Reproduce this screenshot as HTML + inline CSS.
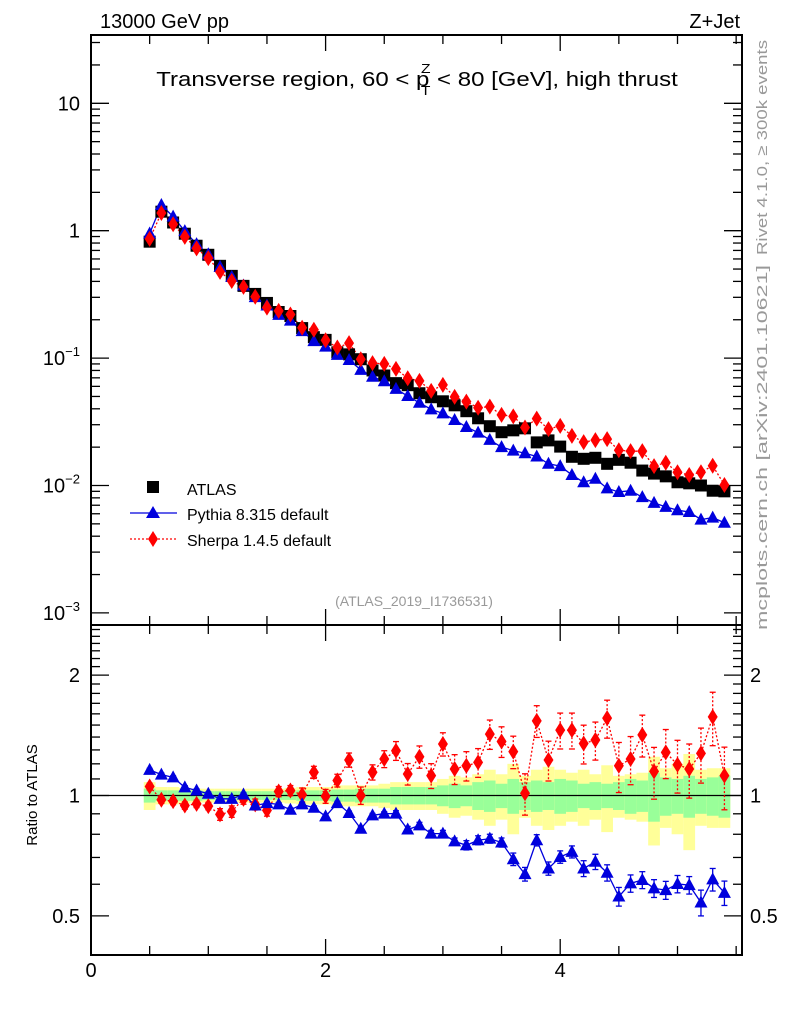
<!DOCTYPE html>
<html><head><meta charset="utf-8">
<style>
html,body{margin:0;padding:0;background:#fff;}
svg{display:block;font-family:"Liberation Sans",sans-serif;}
</style></head>
<body>
<svg id="chart" width="786" height="1024" viewBox="0 0 786 1024" xmlns="http://www.w3.org/2000/svg">
<text x="100" y="28" font-size="20">13000 GeV pp</text>
<text x="740" y="28" font-size="20" text-anchor="end">Z+Jet</text>
<g transform="translate(417,86) scale(1.2,1)">
<text x="0" y="0" font-size="20" text-anchor="middle">Transverse region, 60 &lt; p<tspan font-size="13" dx="-7" dy="-13">Z</tspan><tspan font-size="13" dx="-8" dy="22">T</tspan><tspan dy="-9"> &lt; 80 [GeV], high thrust</tspan></text>
</g>
<text transform="translate(767,255) rotate(-90)" font-size="15" fill="#999" textLength="215" lengthAdjust="spacingAndGlyphs">Rivet 4.1.0, ≥ 300k events</text>
<text transform="translate(767,630) rotate(-90)" font-size="15" fill="#999" textLength="365" lengthAdjust="spacingAndGlyphs">mcplots.cern.ch [arXiv:2401.10621]</text>
<text x="414" y="606" font-size="14" fill="#999" text-anchor="middle">(ATLAS_2019_I1736531)</text>
<text transform="translate(37,795) rotate(-90)" font-size="15" text-anchor="middle">Ratio to ATLAS</text>
<g>
<rect x="147" y="481" width="12" height="12" fill="#000"/>
<text x="187" y="495" font-size="16">ATLAS</text>
<line x1="130" y1="513" x2="177" y2="513" stroke="#0000dd" stroke-width="1.3"/>
<polygon points="153,506 160,518 146,518" fill="#0000dd"/>
<text x="187" y="520" font-size="16">Pythia 8.315 default</text>
<line x1="130" y1="539" x2="177" y2="539" stroke="#ff0000" stroke-width="1.3" stroke-dasharray="2,2"/>
<polygon points="153,531 158,539 153,547 148,539" fill="#ff0000"/>
<text x="187" y="546" font-size="16">Sherpa 1.4.5 default</text>
</g>
</svg>
<script>
const xVals=[0.5,0.6,0.7,0.8,0.9,1.0,1.1,1.2,1.3,1.4,1.5,1.6,1.7,1.8,1.9,2.0,2.1,2.2,2.3,2.4,2.5,2.6,2.7,2.8,2.9,3.0,3.1,3.2,3.3,3.4,3.5,3.6,3.7,3.8,3.9,4.0,4.1,4.2,4.3,4.4,4.5,4.6,4.7,4.8,4.9,5.0,5.1,5.2,5.3,5.4];
const atlasVals=[0.82,1.41,1.16,0.947,0.762,0.647,0.53,0.442,0.369,0.319,0.271,0.230,0.214,0.172,0.146,0.139,0.111,0.107,0.098,0.080,0.073,0.0636,0.0613,0.053,0.0493,0.0458,0.0426,0.0383,0.0337,0.0292,0.0262,0.0271,0.0281,0.0218,0.0226,0.0202,0.0168,0.0162,0.0165,0.0148,0.0159,0.0151,0.0131,0.0124,0.0118,0.0106,0.0104,0.0100,0.0091,0.0090];
const pythiaVals=[0.950,1.59,1.29,0.992,0.784,0.653,0.520,0.434,0.371,0.301,0.259,0.2185,0.197,0.163,0.136,0.123,0.106,0.0967,0.0809,0.0714,0.0658,0.0573,0.0504,0.0446,0.0396,0.0368,0.0327,0.0288,0.0260,0.0228,0.0200,0.0188,0.0179,0.0169,0.0148,0.0142,0.0121,0.0106,0.0113,0.0095,0.0089,0.0091,0.0081,0.0073,0.0068,0.0064,0.0062,0.0054,0.0056,0.0051];
const sherpaVals=[0.863,1.376,1.123,0.894,0.726,0.609,0.475,0.403,0.362,0.303,0.249,0.235,0.220,0.173,0.167,0.138,0.121,0.131,0.098,0.0914,0.0901,0.0823,0.0694,0.0663,0.0553,0.0616,0.0496,0.0455,0.0408,0.0416,0.0358,0.0349,0.0285,0.0335,0.0277,0.0294,0.0245,0.0219,0.0227,0.0231,0.0189,0.0186,0.0186,0.0142,0.0151,0.0127,0.0121,0.0127,0.0143,0.0101];
const pythiaRatio=[1.159,1.128,1.11,1.048,1.029,1.01,0.981,0.981,1.006,0.944,0.957,0.950,0.921,0.950,0.932,0.887,0.957,0.904,0.826,0.892,0.901,0.901,0.822,0.842,0.803,0.803,0.768,0.751,0.773,0.780,0.763,0.693,0.636,0.773,0.657,0.702,0.723,0.657,0.683,0.641,0.559,0.603,0.615,0.586,0.580,0.601,0.597,0.540,0.617,0.571];
const sherpaRatio=[1.053,0.976,0.968,0.944,0.953,0.941,0.897,0.912,0.981,0.950,0.918,1.023,1.029,1.004,1.143,0.996,1.09,1.227,1.0,1.143,1.234,1.294,1.132,1.25,1.121,1.345,1.165,1.187,1.21,1.424,1.365,1.287,1.013,1.537,1.227,1.457,1.457,1.349,1.376,1.561,1.187,1.234,1.418,1.149,1.282,1.194,1.165,1.274,1.572,1.121];
const pythiaErr=[0.01,0.01,0.01,0.01,0.01,0.01,0.01,0.01,0.01,0.01,0.01,0.01,0.01,0.01,0.01,0.01,0.01,0.01,0.01,0.01,0.01,0.015,0.015,0.015,0.015,0.015,0.015,0.02,0.02,0.02,0.02,0.025,0.025,0.025,0.025,0.025,0.025,0.03,0.03,0.03,0.03,0.03,0.03,0.03,0.03,0.03,0.03,0.04,0.04,0.04];
const sherpaErr=[0.02,0.02,0.02,0.02,0.02,0.02,0.03,0.03,0.03,0.03,0.03,0.03,0.03,0.04,0.04,0.04,0.04,0.05,0.05,0.05,0.06,0.07,0.07,0.08,0.08,0.09,0.1,0.1,0.1,0.12,0.12,0.12,0.12,0.14,0.14,0.15,0.15,0.15,0.15,0.17,0.17,0.17,0.17,0.17,0.18,0.18,0.18,0.2,0.24,0.2];
const greenBand=[0.04,0.03,0.03,0.03,0.03,0.025,0.025,0.025,0.025,0.025,0.025,0.025,0.025,0.03,0.03,0.03,0.035,0.035,0.04,0.04,0.04,0.05,0.05,0.05,0.05,0.06,0.07,0.06,0.08,0.09,0.07,0.1,0.08,0.09,0.08,0.1,0.09,0.07,0.08,0.07,0.08,0.1,0.09,0.14,0.11,0.1,0.12,0.1,0.11,0.12];
const yellowBand=[0.08,0.05,0.05,0.045,0.04,0.04,0.04,0.04,0.04,0.04,0.04,0.04,0.045,0.05,0.05,0.05,0.06,0.06,0.06,0.06,0.07,0.08,0.08,0.08,0.08,0.1,0.12,0.11,0.13,0.16,0.13,0.2,0.12,0.16,0.18,0.16,0.14,0.16,0.13,0.19,0.12,0.13,0.14,0.25,0.17,0.2,0.27,0.16,0.17,0.17];
const xTickLabels=["0","2","4"];

const NS="http://www.w3.org/2000/svg";
const svg=document.getElementById('chart');
const L=91,R=742,MT=35,MB=625,RT=625,RB=955;
function X(v){return L+v*117.3;}
function Ym(v){return 230.7-127.4*Math.log10(v);}
function Yr(v){return 795.5-400*Math.log10(v);}
function mk(tag,attrs,parent){const e=document.createElementNS(NS,tag);for(const k in attrs)e.setAttribute(k,attrs[k]);(parent||svg).appendChild(e);return e;}

const bands=mk('g',{});


xVals.forEach((x,i)=>{
  const x0=X(x-0.05),x1=X(x+0.05);
  const y=mk('rect',{x:x0,y:Yr(1+yellowBand[i]),width:x1-x0,height:Yr(1-yellowBand[i])-Yr(1+yellowBand[i]),fill:'#ffff99'},bands);
  
  
  const g=mk('rect',{x:x0,y:Yr(1+greenBand[i]),width:x1-x0,height:Yr(1-greenBand[i])-Yr(1+greenBand[i]),fill:'#99ff99'},bands);
  
  
});
const one=mk('line',{x1:L,x2:R,y1:Yr(1),y2:Yr(1),stroke:'#000','stroke-width':1.3});



function frame(y0,y1,name){const r=mk('rect',{x:L,y:y0,width:R-L,height:y1-y0,fill:'none',stroke:'#000','stroke-width':2});

}
frame(MT,MB,'main-plot-frame');frame(RT,RB,'ratio-plot-frame');
const ticks=mk('g',{stroke:'#000','stroke-width':1.3});


for(let k=0;k<=11;k++){const v=k*0.5;const px=X(v);if(px>R)break;const len=(k%4===0)?16:9;
 [[MB,MB-len],[MT,MT+len],[RB,RB-len],[RT,RT+len]].forEach(p=>mk('line',{x1:px,x2:px,y1:p[0],y2:p[1]},ticks));}
xTickLabels.forEach(t=>{const tx=mk('text',{x:X(+t),y:977,'font-size':20,'text-anchor':'middle'});tx.textContent=t;

});
for(let e=-3;e<=1;e++){for(let m=1;m<10;m++){const v=m*Math.pow(10,e);const py=Ym(v);if(py<MT||py>MB)continue;const len=m===1?18:9;
 mk('line',{x1:L,x2:L+len,y1:py,y2:py},ticks);mk('line',{x1:R,x2:R-len,y1:py,y2:py},ticks);}}
[[10,"10"],[1,"1"]].forEach(p=>{const t=mk('text',{x:80,y:Ym(p[0])+7,'font-size':20,'text-anchor':'end'});t.textContent=p[1];

});
[[0.1,"−1"],[0.01,"−2"],[0.001,"−3"]].forEach(p=>{const t=mk('text',{x:80,y:Ym(p[0])+7,'font-size':20,'text-anchor':'end'});
t.innerHTML='10<tspan font-size="13" dy="-9">'+p[1]+'</tspan>';

});
for(let k=4;k<=26;k++){const v=k/10;const py=Yr(v);if(py<RT||py>RB)continue;const len=(k===5||k===10||k===20)?18:9;
 mk('line',{x1:L,x2:L+len,y1:py,y2:py},ticks);mk('line',{x1:R,x2:R-len,y1:py,y2:py},ticks);}
[[2,"2"],[1,"1"],[0.5,"0.5"]].forEach(p=>{[[80,'end'],[750,'start']].forEach(s=>{const t=mk('text',{x:s[0],y:Yr(p[0])+7,'font-size':20,'text-anchor':s[1]});t.textContent=p[1];

});});

function line(vals,yf,color,dash,name){const pts=xVals.map((x,i)=>X(x)+','+yf(vals[i])).join(' ');
 const a={points:pts,fill:'none',stroke:color,'stroke-width':1.3};if(dash)a['stroke-dasharray']=dash;const p=mk('polyline',a);
 
 }
function tri(x,y,c,name){const p=mk('polygon',{points:`${x},${y-7} ${x+6.5},${y+5} ${x-6.5},${y+5}`,fill:c});
 
 }
function dia(x,y,c,name){const p=mk('polygon',{points:`${x},${y-8} ${x+5},${y} ${x},${y+8} ${x-5},${y}`,fill:c});
 
 }
function errbar(x,v,e,c,dash){const a={x1:x,x2:x,y1:Yr(v+e),y2:Yr(v-e),stroke:c,'stroke-width':1.3};if(dash)a['stroke-dasharray']=dash;mk('line',a);
 mk('line',{x1:x-3,x2:x+3,y1:Yr(v+e),y2:Yr(v+e),stroke:c,'stroke-width':1.3});mk('line',{x1:x-3,x2:x+3,y1:Yr(v-e),y2:Yr(v-e),stroke:c,'stroke-width':1.3});}

line(sherpaVals,Ym,'#ff0000','2,2','sherpa-line');
line(pythiaVals,Ym,'#0000dd',null,'pythia-line');
xVals.forEach((x,i)=>{const r=mk('rect',{x:X(x)-6,y:Ym(atlasVals[i])-6,width:12,height:12,fill:'#000'});
 
 });
xVals.forEach((x,i)=>tri(X(x),Ym(pythiaVals[i]),'#0000dd','pythia-point'));
xVals.forEach((x,i)=>dia(X(x),Ym(sherpaVals[i]),'#ff0000','sherpa-point'));

line(sherpaRatio,Yr,'#ff0000','2,2','sherpa-ratio-line');
line(pythiaRatio,Yr,'#0000dd',null,'pythia-ratio-line');
xVals.forEach((x,i)=>{errbar(X(x),sherpaRatio[i],sherpaErr[i],'#ff0000','2,2');dia(X(x),Yr(sherpaRatio[i]),'#ff0000','sherpa-ratio-point');});
xVals.forEach((x,i)=>{errbar(X(x),pythiaRatio[i],pythiaErr[i],'#0000dd',null);tri(X(x),Yr(pythiaRatio[i]),'#0000dd','pythia-ratio-point');});
</script>
</body></html>
